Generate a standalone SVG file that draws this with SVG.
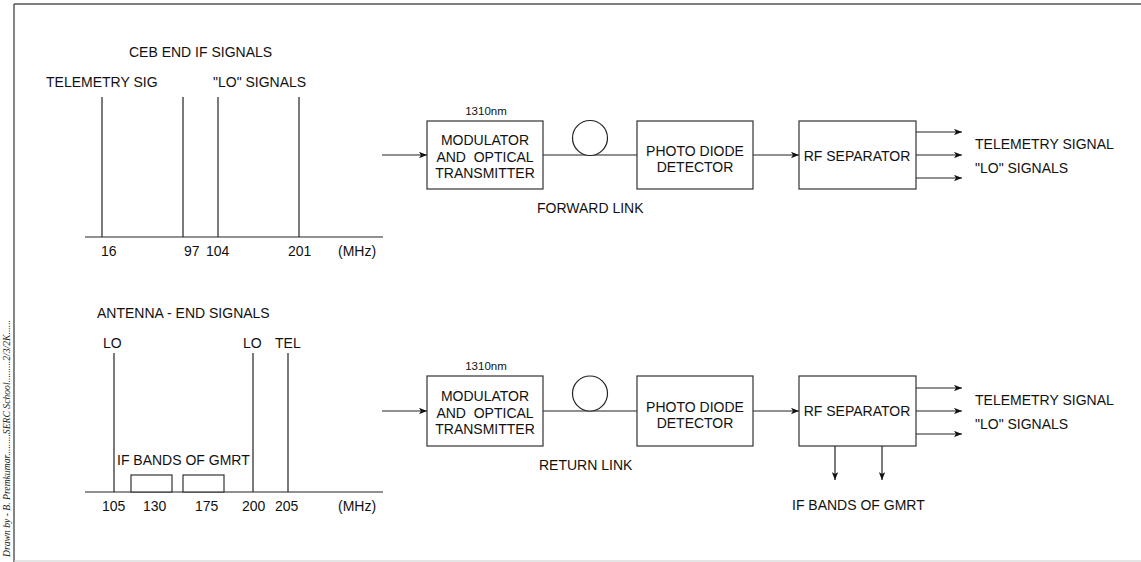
<svg xmlns="http://www.w3.org/2000/svg" width="1141" height="562" viewBox="0 0 1141 562">
<defs>
<marker id="ah" viewBox="0 0 10 8" refX="10" refY="4" markerWidth="8" markerHeight="6.4" markerUnits="userSpaceOnUse" orient="auto">
<path d="M0,0 L10,4 L0,8 L2.5,4 z" fill="#111"/>
</marker>
<style>
.t{font-family:"Liberation Sans",Arial,sans-serif;font-size:14px;fill:#111}
.s{font-family:"Liberation Sans",Arial,sans-serif;font-size:11.5px;fill:#111}
.m{text-anchor:middle}
.pre{white-space:pre}
.ln{stroke:#222;stroke-width:1.2;fill:none}
.bx{stroke:#333;stroke-width:1.2;fill:#fff}
.ar{stroke:#222;stroke-width:1.2;fill:none;marker-end:url(#ah)}
</style>
</defs>
<rect width="1141" height="562" fill="#fff"/>
<g id="frame">
<line x1="14" y1="4" x2="1141" y2="4" stroke="#555" stroke-width="1.5"/>
<line x1="14" y1="4" x2="14" y2="562" stroke="#333" stroke-width="1.2"/>
<line x1="14" y1="561" x2="1141" y2="561" stroke="#ccc" stroke-width="1"/>
<text transform="translate(10,557) rotate(-90)" font-family="'Liberation Serif',serif" font-style="italic" font-size="10.5" fill="#222" textLength="237" lengthAdjust="spacingAndGlyphs">Drawn by - B. Premkumar.........SERC School.........2/3/2K......</text>
</g>
<g id="ceb-spectrum">
<text class="t" x="129" y="57">CEB END IF SIGNALS</text>
<text class="t" x="46" y="87">TELEMETRY SIG</text>
<text class="t" x="213" y="87">"LO" SIGNALS</text>
<line class="ln" x1="85" y1="237" x2="383" y2="237"/>
<line class="ln" x1="102" y1="97" x2="102" y2="237"/>
<line class="ln" x1="183" y1="97" x2="183" y2="237"/>
<line class="ln" x1="218" y1="97" x2="218" y2="237"/>
<line class="ln" x1="299" y1="97" x2="299" y2="237"/>
<text class="t" x="101" y="256">16</text>
<text class="t" x="184" y="256">97</text>
<text class="t" x="206" y="256">104</text>
<text class="t" x="288" y="256">201</text>
<text class="t" x="338" y="256">(MHz)</text>
</g>
<g id="antenna-spectrum">
<text class="t" x="97" y="318">ANTENNA - END SIGNALS</text>
<text class="t" x="103" y="348">LO</text>
<text class="t" x="243" y="348">LO</text>
<text class="t" x="275" y="348">TEL</text>
<line class="ln" x1="85" y1="492" x2="383" y2="492"/>
<line class="ln" x1="114" y1="353" x2="114" y2="492"/>
<line class="ln" x1="253" y1="353" x2="253" y2="492"/>
<line class="ln" x1="288" y1="353" x2="288" y2="492"/>
<rect class="bx" x="131" y="475" width="41" height="17"/>
<rect class="bx" x="183" y="475" width="41" height="17"/>
<text class="t" x="117" y="465">IF BANDS OF GMRT</text>
<text class="t" x="102" y="511">105</text>
<text class="t" x="143" y="511">130</text>
<text class="t" x="195" y="511">175</text>
<text class="t" x="242" y="511">200</text>
<text class="t" x="275" y="511">205</text>
<text class="t" x="338" y="511">(MHz)</text>
</g>
<g id="connectors">
<line class="ar" x1="382" y1="155" x2="427" y2="155"/>
<line class="ln" x1="543" y1="155" x2="637" y2="155"/>
<line class="ar" x1="753" y1="155" x2="799" y2="155"/>
<line class="ar" x1="916" y1="132" x2="962" y2="132"/>
<line class="ar" x1="916" y1="155" x2="962" y2="155"/>
<line class="ar" x1="916" y1="178" x2="962" y2="178"/>
<line class="ar" x1="382" y1="411" x2="427" y2="411"/>
<line class="ln" x1="543" y1="411" x2="637" y2="411"/>
<line class="ar" x1="753" y1="411" x2="799" y2="411"/>
<line class="ar" x1="916" y1="388" x2="962" y2="388"/>
<line class="ar" x1="916" y1="411" x2="962" y2="411"/>
<line class="ar" x1="916" y1="434" x2="962" y2="434"/>
<line class="ar" x1="835" y1="446" x2="835" y2="480"/>
<line class="ar" x1="882" y1="446" x2="882" y2="480"/>
</g>
<g id="fwd-modulator">
<text class="s m" x="486" y="115">1310nm</text>
<rect class="bx" x="427" y="121" width="116" height="68"/>
<text class="t m" x="485" y="145">MODULATOR</text>
<text class="t m pre" x="485" y="161.5">AND  OPTICAL</text>
<text class="t m" x="485" y="178">TRANSMITTER</text>
</g>
<g id="fwd-fiber">
<circle cx="590" cy="138" r="17.5" fill="#fff" stroke="#222" stroke-width="1.2"/>
</g>
<g id="fwd-detector">
<rect class="bx" x="637" y="121" width="116" height="68"/>
<text class="t m" x="695" y="156">PHOTO DIODE</text>
<text class="t m" x="695" y="172">DETECTOR</text>
</g>
<g id="fwd-separator">
<rect class="bx" x="799" y="121" width="117" height="68"/>
<text class="t m" x="857" y="161">RF SEPARATOR</text>
</g>
<g id="fwd-labels">
<text class="t" x="975" y="149">TELEMETRY SIGNAL</text>
<text class="t" x="975" y="173">"LO" SIGNALS</text>
<text class="t" x="537" y="213">FORWARD LINK</text>
</g>
<g id="ret-modulator">
<text class="s m" x="486" y="370">1310nm</text>
<rect class="bx" x="427" y="376" width="116" height="70"/>
<text class="t m" x="485" y="401">MODULATOR</text>
<text class="t m pre" x="485" y="417.5">AND  OPTICAL</text>
<text class="t m" x="485" y="434">TRANSMITTER</text>
</g>
<g id="ret-fiber">
<circle cx="590" cy="393.5" r="17.5" fill="#fff" stroke="#222" stroke-width="1.2"/>
</g>
<g id="ret-detector">
<rect class="bx" x="637" y="376" width="116" height="70"/>
<text class="t m" x="695" y="412">PHOTO DIODE</text>
<text class="t m" x="695" y="428">DETECTOR</text>
</g>
<g id="ret-separator">
<rect class="bx" x="799" y="376" width="117" height="70"/>
<text class="t m" x="857" y="416">RF SEPARATOR</text>
</g>
<g id="ret-labels">
<text class="t" x="975" y="405">TELEMETRY SIGNAL</text>
<text class="t" x="975" y="429">"LO" SIGNALS</text>
<text class="t" x="539" y="470">RETURN LINK</text>
<text class="t" x="792" y="510">IF BANDS OF GMRT</text>
</g>
</svg>
